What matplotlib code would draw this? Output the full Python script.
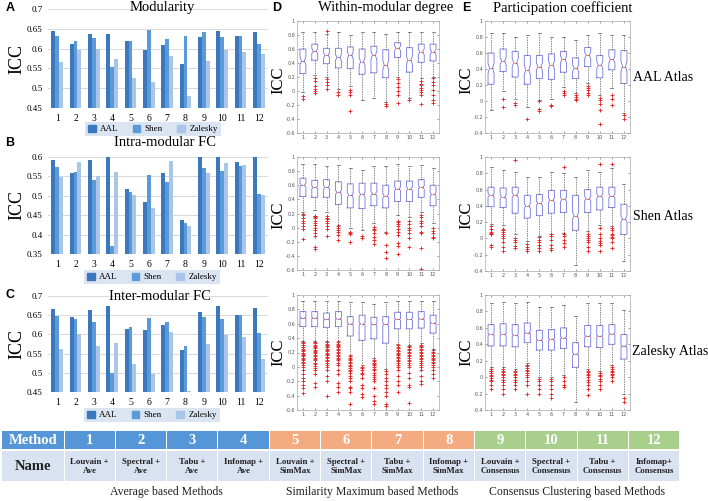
import numpy as np
import matplotlib.pyplot as plt
from matplotlib.patches import Rectangle, Patch

W, H = 708, 501
SERIF = ['Liberation Serif', 'DejaVu Serif']
SANS = ['Liberation Sans', 'DejaVu Sans']

methods = np.arange(1, 13)
atlases = ["AAL", "Shen", "Zalesky"]
bar_colors = ["#3b78bd", "#5b9ad9", "#a9c6e8"]

# bar chart values (ICC)
mod_aal = [0.645, 0.611, 0.638, 0.638, 0.619, 0.596, 0.608, 0.560, 0.630, 0.644, 0.632, 0.641]
mod_shen = [0.633, 0.619, 0.627, 0.554, 0.618, 0.646, 0.624, 0.631, 0.641, 0.630, 0.632, 0.612]
mod_zal = [0.566, 0.596, 0.598, 0.574, 0.525, 0.515, 0.581, 0.480, 0.568, 0.596, 0.591, 0.586]

intra_aal = [0.593, 0.560, 0.591, 0.600, 0.518, 0.483, 0.559, 0.438, 0.600, 0.600, 0.586, 0.600]
intra_shen = [0.575, 0.561, 0.541, 0.371, 0.511, 0.554, 0.536, 0.431, 0.571, 0.564, 0.578, 0.505]
intra_zal = [0.548, 0.587, 0.550, 0.561, 0.502, 0.469, 0.589, 0.421, 0.560, 0.585, 0.580, 0.503]

inter_aal = [0.666, 0.645, 0.663, 0.674, 0.614, 0.611, 0.625, 0.560, 0.659, 0.675, 0.650, 0.670]
inter_shen = [0.648, 0.639, 0.633, 0.499, 0.619, 0.643, 0.633, 0.570, 0.645, 0.640, 0.650, 0.603]
inter_zal = [0.562, 0.602, 0.569, 0.577, 0.523, 0.497, 0.606, 0.452, 0.575, 0.598, 0.593, 0.536]

# box plot summaries: q1, median, q3, lower whisker, upper whisker, outliers
wd_aal_q1 = [0.25, 0.44, 0.39, 0.33, 0.32, 0.24, 0.26, 0.19, 0.48, 0.27, 0.41, 0.43]
wd_aal_med = [0.43, 0.57, 0.51, 0.48, 0.51, 0.42, 0.51, 0.37, 0.61, 0.44, 0.56, 0.56]
wd_aal_q3 = [0.60, 0.67, 0.61, 0.61, 0.63, 0.60, 0.64, 0.59, 0.69, 0.62, 0.67, 0.67]
wd_aal_lo = [-0.01, 0.23, 0.20, 0.03, 0.07, -0.13, -0.10, -0.15, 0.20, -0.10, 0.18, 0.20]
wd_aal_hi = [0.85, 0.85, 0.81, 0.85, 0.80, 0.85, 0.85, 0.81, 0.85, 0.85, 0.85, 0.85]
wd_aal_out = [[-0.07, -0.11], [0.19, 0.14, 0.07, 0.03, 0.0, -0.03], [0.86, 0.17, 0.13, 0.09, 0.03],
              [-0.01, -0.05], [0.02, -0.02, -0.05, -0.29], [], [], [-0.19, -0.22],
              [0.17, 0.11, 0.06, 0.0, -0.05, -0.17], [-0.13],
              [0.14, 0.10, 0.08, 0.05, 0.01, -0.02, -0.05, -0.18],
              [0.18, 0.13, 0.08, 0.01, -0.06, -0.13, -0.17]]

pc_aal_q1 = [0.21, 0.37, 0.30, 0.21, 0.28, 0.27, 0.36, 0.28, 0.43, 0.29, 0.39, 0.22]
pc_aal_med = [0.41, 0.50, 0.48, 0.39, 0.43, 0.45, 0.52, 0.41, 0.57, 0.45, 0.52, 0.43]
pc_aal_q3 = [0.60, 0.65, 0.62, 0.57, 0.57, 0.59, 0.62, 0.54, 0.67, 0.57, 0.64, 0.63]
pc_aal_lo = [-0.11, 0.12, 0.02, -0.08, 0.01, 0.02, 0.17, 0.10, 0.22, 0.07, 0.16, -0.15]
pc_aal_hi = [0.85, 0.85, 0.80, 0.83, 0.85, 0.80, 0.80, 0.76, 0.83, 0.85, 0.83, 0.83]
pc_aal_out = [[], [0.02, -0.07], [-0.02, -0.05], [-0.22], [0.0, -0.10, -0.12], [-0.05, -0.06],
              [0.13, 0.10, 0.08], [0.07, 0.05, 0.03, 0.01], [0.19, 0.16, 0.14, 0.10, 0.07],
              [0.04, 0.01, -0.04, -0.11, -0.29], [0.08, 0.02, -0.05], [-0.18, -0.22]]

wd_shen_q1 = [0.44, 0.43, 0.43, 0.33, 0.28, 0.27, 0.31, 0.28, 0.37, 0.37, 0.43, 0.31]
wd_shen_med = [0.60, 0.57, 0.57, 0.50, 0.46, 0.47, 0.48, 0.45, 0.55, 0.55, 0.57, 0.47]
wd_shen_q3 = [0.70, 0.67, 0.68, 0.65, 0.62, 0.63, 0.63, 0.60, 0.66, 0.66, 0.68, 0.60]
wd_shen_lo = [0.22, 0.25, 0.22, 0.04, 0.00, -0.03, 0.06, -0.06, 0.18, 0.15, 0.22, 0.06]
wd_shen_hi = [0.90, 0.90, 0.87, 0.88, 0.85, 0.82, 0.87, 0.87, 0.90, 0.87, 0.88, 0.85]
wd_shen_out = [[0.20, 0.18, 0.14, 0.09, 0.06, 0.02, -0.02, -0.16],
               [0.17, 0.16, 0.15, 0.13, 0.10, 0.07, 0.04, 0.0, -0.03, -0.08, -0.12, -0.27, -0.30],
               [0.16, 0.14, 0.12, 0.09, 0.07, 0.03, -0.02, -0.12],
               [0.03, 0.0, -0.03, -0.06, -0.10, -0.17],
               [-0.06, -0.08, -0.09, -0.20], [-0.12, -0.14],
               [0.01, -0.02, -0.03, -0.08, -0.13, -0.18, -0.23],
               [-0.08, -0.24, -0.34, -0.43],
               [0.10, 0.08, 0.05, 0.02, -0.02, -0.06, -0.10, -0.22, -0.26, -0.37],
               [0.10, 0.05, 0.0, -0.03, -0.08, -0.14, -0.28],
               [0.18, 0.15, 0.10, 0.06, 0.03, -0.06, -0.08, -0.29, -0.58],
               [0.0, -0.05, -0.08, -0.13, -0.15]]

pc_shen_q1 = [0.39, 0.38, 0.31, 0.25, 0.28, 0.31, 0.32, 0.10, 0.32, 0.35, 0.38, 0.05]
pc_shen_med = [0.53, 0.51, 0.53, 0.40, 0.43, 0.47, 0.48, 0.28, 0.49, 0.52, 0.52, 0.24]
pc_shen_q3 = [0.63, 0.62, 0.63, 0.53, 0.54, 0.59, 0.59, 0.53, 0.60, 0.63, 0.63, 0.42]
pc_shen_lo = [0.18, 0.17, 0.06, -0.03, 0.03, 0.05, 0.07, -0.33, 0.09, 0.17, 0.15, -0.28]
pc_shen_hi = [0.88, 0.84, 0.82, 0.75, 0.76, 0.81, 0.80, 0.75, 0.84, 0.82, 0.86, 0.67]
pc_shen_out = [[0.15, 0.12, 0.08, 0.07, 0.06, 0.05, -0.08, -0.10],
               [0.12, 0.10, 0.08, 0.05, 0.03, 0.0, -0.05, -0.10, -0.15],
               [0.96, 0.0, -0.02, -0.05, -0.09, -0.12],
               [-0.07, -0.10, -0.13, -0.16],
               [0.02, -0.02, -0.05, -0.08, -0.12, -0.15],
               [0.05, 0.03, -0.02, -0.08, -0.12, -0.14],
               [0.88, 0.05, 0.03, -0.02, -0.06, -0.10], [],
               [0.06, 0.03, 0.0, -0.02, -0.05, -0.10, -0.15],
               [0.92, 0.13, 0.05, 0.0, -0.03, -0.06, -0.08, -0.15],
               [0.92, 0.13, 0.10, 0.06, 0.04, 0.02, 0.0, -0.05, -0.12], []]

wd_zal_q1 = [0.56, 0.56, 0.55, 0.56, 0.43, 0.37, 0.39, 0.33, 0.53, 0.53, 0.54, 0.47]
wd_zal_med = [0.68, 0.68, 0.66, 0.67, 0.60, 0.60, 0.59, 0.59, 0.66, 0.66, 0.67, 0.61]
wd_zal_q3 = [0.77, 0.77, 0.75, 0.77, 0.70, 0.72, 0.69, 0.70, 0.76, 0.76, 0.77, 0.72]
wd_zal_lo = [0.36, 0.36, 0.36, 0.36, 0.17, 0.02, 0.12, -0.03, 0.32, 0.31, 0.33, 0.25]
wd_zal_hi = [0.92, 0.92, 0.92, 0.92, 0.90, 0.90, 0.88, 0.90, 0.92, 0.92, 0.92, 0.92]
wd_zal_out = [[0.34, 0.33, 0.31, 0.30, 0.28, 0.27, 0.25, 0.23, 0.22, 0.20, 0.18, 0.17, 0.15, 0.13, 0.11,
               0.09, 0.07, 0.05, 0.02, 0.0, -0.05, -0.10, -0.15, -0.20, -0.25, -0.30, -0.36],
              [0.34, 0.33, 0.31, 0.29, 0.28, 0.26, 0.24, 0.22, 0.21, 0.19, 0.17, 0.15, 0.13, 0.11, 0.09,
               0.06, 0.04, 0.01, -0.02, -0.05, -0.10, -0.22, -0.28],
              [0.34, 0.32, 0.31, 0.29, 0.27, 0.25, 0.24, 0.22, 0.20, 0.18, 0.16, 0.14, 0.12, 0.10, 0.08,
               0.05, 0.03, 0.0, -0.05, -0.12, -0.20, -0.40],
              [0.34, 0.32, 0.30, 0.29, 0.27, 0.25, 0.23, 0.21, 0.19, 0.17, 0.15, 0.13, 0.11, 0.09, 0.06,
               0.03, -0.05, -0.10, -0.22, -0.28, -0.35],
              [0.15, 0.13, 0.11, 0.09, 0.07, 0.05, 0.03, 0.01, -0.02, -0.04, -0.06, -0.09, -0.12, -0.15,
               -0.20, -0.28, -0.30, -0.35, -0.51],
              [0.0, -0.02, -0.05, -0.08, -0.10, -0.15, -0.25, -0.30, -0.38, -0.42],
              [0.10, 0.08, 0.06, 0.04, 0.02, 0.0, -0.03, -0.05, -0.08, -0.11, -0.14, -0.17, -0.20, -0.30,
               -0.40, -0.48, -0.52],
              [-0.06, -0.10, -0.15, -0.20, -0.25, -0.30, -0.35, -0.40, -0.52, -0.55],
              [0.30, 0.28, 0.26, 0.24, 0.22, 0.20, 0.18, 0.16, 0.14, 0.12, 0.10, 0.08, 0.05, 0.03, 0.0,
               -0.05, -0.12, -0.20, -0.25, -0.35],
              [0.29, 0.27, 0.25, 0.23, 0.21, 0.19, 0.17, 0.15, 0.13, 0.10, 0.08, 0.05, 0.02, 0.0, -0.08,
               -0.15, -0.25, -0.28, -0.50],
              [0.31, 0.29, 0.27, 0.25, 0.23, 0.21, 0.19, 0.17, 0.15, 0.13, 0.11, 0.08, 0.05, 0.02, 0.0,
               -0.05, -0.12, -0.20, -0.24],
              [0.23, 0.21, 0.19, 0.17, 0.15, 0.13, 0.11, 0.09, 0.07, 0.05, 0.03, 0.0, -0.05, -0.10,
               -0.15]]

pc_zal_q1 = [0.38, 0.38, 0.37, 0.42, 0.33, 0.33, 0.35, 0.12, 0.37, 0.36, 0.40, 0.22]
pc_zal_med = [0.52, 0.52, 0.51, 0.54, 0.45, 0.46, 0.48, 0.28, 0.50, 0.50, 0.53, 0.38]
pc_zal_q3 = [0.64, 0.65, 0.64, 0.66, 0.57, 0.58, 0.60, 0.42, 0.63, 0.63, 0.64, 0.52]
pc_zal_lo = [0.12, 0.12, 0.10, 0.17, 0.0, 0.0, 0.03, -0.30, 0.10, 0.08, 0.15, -0.20]
pc_zal_hi = [0.90, 0.92, 0.90, 0.92, 0.85, 0.85, 0.88, 0.75, 0.90, 0.90, 0.90, 0.82]
pc_zal_out = [[0.10, 0.08, 0.07, 0.05, 0.03, 0.01, -0.01, -0.03, -0.05, -0.10, -0.15],
              [0.10, 0.08, 0.06, 0.04, 0.02, 0.0, -0.03, -0.06, -0.10, -0.15, -0.20],
              [0.08, 0.06, 0.04, 0.02, 0.0, -0.03, -0.06, -0.10, -0.15],
              [0.15, 0.13, 0.11, 0.09, 0.07, 0.05, 0.02, 0.0, -0.05, -0.10, -0.20],
              [-0.02, -0.05, -0.10, -0.15, -0.20],
              [-0.02, -0.05, -0.10, -0.15, -0.20, -0.25],
              [0.0, -0.05, -0.10, -0.12], [],
              [0.08, 0.06, 0.04, 0.02, 0.0, -0.03, -0.06, -0.10, -0.15, -0.22],
              [0.05, 0.03, 0.01, -0.02, -0.05, -0.10, -0.15],
              [0.12, 0.10, 0.08, 0.06, 0.04, 0.02, 0.0, -0.05],
              [-0.25, -0.30]]

n_rois = {"AAL": 90, "Shen": 268, "Zalesky": 1024}

method_names = ["Louvain +\nAve", "Spectral +\nAve", "Tabu +\nAve", "Infomap +\nAve",
                "Louvain +\nSimMax", "Spectral +\nSimMax", "Tabu +\nSimMax", "Infomap +\nSimMax",
                "Louvain +\nConsensus", "Spectral +\nConsensus", "Tabu +\nConsensus", "Infomap+\nConsensus"]
group_names = ["Average based Methods", "Similarity Maximum based Methods",
               "Consensus Clustering based Methods"]
group_colors = ["#5496d8", "#f4ab82", "#a8d08c"]

fig = plt.figure(figsize=(W / 100, H / 100), dpi=100)


def px_axes(left, top, right, bottom):
    return fig.add_axes([left / W, 1 - bottom / H, (right - left) / W, (bottom - top) / H])


def ftext(x, y, s, **kw):
    fig.text(x / W, 1 - y / H, s, **kw)


# ---- bar charts (A, B, C) ----
def bar_panel(box, values, ylim, title, title_xy, legend_xy):
    ax = px_axes(*box)
    w = 0.21
    for k, (vals, c) in enumerate(zip(values, bar_colors)):
        ax.bar(methods + (k - 1) * w, vals, width=w, color=c, zorder=2)
    ax.set_xlim(0.5, 12.5)
    ax.set_ylim(*ylim)
    yt = np.round(np.arange(ylim[0], ylim[1] + 0.001, 0.05), 2)
    ax.set_yticks(yt)
    ax.set_yticklabels([f"{v:g}" for v in yt], fontsize=6.5, family=SERIF)
    ax.set_xticks(methods)
    ax.set_xticklabels([str(m) for m in methods], fontsize=7, family=SERIF)
    ax.tick_params(length=0, pad=4)
    ax.grid(axis='y', color='#d9d9d9', lw=0.7, zorder=0)
    for s in ax.spines.values():
        s.set_visible(False)
    ax.set_ylabel("ICC", family=SERIF, fontsize=13, labelpad=1)
    ftext(*title_xy, title, family=SERIF, fontsize=10.5, ha='center', va='center')
    handles = [Patch(color=c) for c in bar_colors]
    fig.legend(handles, atlases, loc='center', ncol=3, bbox_to_anchor=(legend_xy[0] / W, 1 - legend_xy[1] / H),
               prop={'family': SERIF, 'size': 6.5}, frameon=True, facecolor='#dbe5f1', edgecolor='none',
               fancybox=False, handlelength=0.8, handleheight=0.8, handletextpad=0.5, columnspacing=1.6,
               borderpad=0.35, framealpha=1)
    return ax


bar_panel((48, 9, 268, 108), [mod_aal, mod_shen, mod_zal], (0.45, 0.7), "Modularity", (162, 7), (153, 129))
bar_panel((48, 157, 268, 254), [intra_aal, intra_shen, intra_zal], (0.35, 0.6), "Intra-modular FC",
          (165, 143), (152, 277))
bar_panel((48, 296, 268, 392), [inter_aal, inter_shen, inter_zal], (0.45, 0.7), "Inter-modular FC",
          (160, 296), (152, 415))


# ---- box plots (D, E) ----
def box_panel(box, q1, med, q3, lo, hi, out, n, ylim):
    ax = px_axes(*box)
    stats = []
    for i in range(12):
        half = 1.57 * (q3[i] - q1[i]) / np.sqrt(n)
        stats.append(dict(q1=q1[i], med=med[i], q3=q3[i], whislo=lo[i], whishi=hi[i],
                          fliers=out[i], cilo=med[i] - half, cihi=med[i] + half))
    ax.bxp(stats, positions=methods, widths=0.5, shownotches=True, manage_ticks=False,
           boxprops=dict(color='#7474dc', lw=0.6),
           medianprops=dict(color='#e05050', lw=0.6),
           whiskerprops=dict(color='#555555', lw=0.5, ls=(0, (2, 1.5))),
           capprops=dict(color='#555555', lw=0.5),
           flierprops=dict(marker='+', markeredgecolor='#e02020', markersize=3, markeredgewidth=0.6, ls='none'))
    ax.set_xlim(0.5, 12.5)
    ax.set_ylim(*ylim)
    yt = np.round(np.arange(ylim[0], 1.001, 0.2), 1)
    ax.set_yticks(yt)
    ax.set_yticklabels([f"{v:g}" for v in yt], fontsize=3.5)
    ax.set_xticks(methods)
    ax.set_xticklabels([str(m) for m in methods], fontsize=3.5)
    ax.tick_params(direction='in', length=1.5, width=0.4, pad=1.5, colors='#555555',
                   top=True, right=True)
    for s in ax.spines.values():
        s.set_color('#aaaaaa')
        s.set_linewidth(0.5)
    return ax


box_panel((297, 21, 439, 133), wd_aal_q1, wd_aal_med, wd_aal_q3, wd_aal_lo, wd_aal_hi, wd_aal_out,
          n_rois["AAL"], (-0.6, 1))
box_panel((485, 21, 630, 133), pc_aal_q1, pc_aal_med, pc_aal_q3, pc_aal_lo, pc_aal_hi, pc_aal_out,
          n_rois["AAL"], (-0.4, 1))
box_panel((297, 157, 439, 270), wd_shen_q1, wd_shen_med, wd_shen_q3, wd_shen_lo, wd_shen_hi, wd_shen_out,
          n_rois["Shen"], (-0.6, 1))
box_panel((485, 157, 630, 271), pc_shen_q1, pc_shen_med, pc_shen_q3, pc_shen_lo, pc_shen_hi, pc_shen_out,
          n_rois["Shen"], (-0.4, 1))
box_panel((297, 295, 439, 410), wd_zal_q1, wd_zal_med, wd_zal_q3, wd_zal_lo, wd_zal_hi, wd_zal_out,
          n_rois["Zalesky"], (-0.6, 1))
box_panel((485, 295, 630, 410), pc_zal_q1, pc_zal_med, pc_zal_q3, pc_zal_lo, pc_zal_hi, pc_zal_out,
          n_rois["Zalesky"], (-0.4, 1))

ftext(386, 8, "Within-modular degree", family=SERIF, fontsize=10.5, ha='center', va='center')
ftext(563, 8, "Participation coefficient", family=SERIF, fontsize=10.5, ha='center', va='center')
for y in (80, 215, 352):
    ftext(278, y, "ICC", family=SERIF, fontsize=12, rotation=90, ha='center', va='center')
    ftext(466, y, "ICC", family=SERIF, fontsize=12, rotation=90, ha='center', va='center')
ftext(633, 77, "AAL Atlas", family=SERIF, fontsize=10, ha='left', va='center')
ftext(633, 217, "Shen Atlas", family=SERIF, fontsize=10, ha='left', va='center')
ftext(632, 352, "Zalesky Atlas", family=SERIF, fontsize=10, ha='left', va='center')

for lab, x, y in [("A", 10, 8), ("B", 10, 143), ("C", 10, 295), ("D", 277, 8), ("E", 466, 8)]:
    ftext(x, y, lab, family=SANS, fontsize=9, fontweight='bold', ha='center', va='center')

# ---- method table ----
tab = fig.add_axes([0, 0, 1, 1], zorder=-1)
tab.set_xlim(0, W)
tab.set_ylim(H, 0)
tab.axis('off')
x0, first_w, cell_w = 2, 62, 51.3
r1_top, r1_bot, r2_top, r2_bot = 431, 449, 451, 481
tab.add_patch(Rectangle((x0, r1_top), first_w, r1_bot - r1_top, color=group_colors[0], lw=0))
tab.add_patch(Rectangle((x0, r2_top), first_w, r2_bot - r2_top, color='#d9e2f1', lw=0))
tab.text(x0 + first_w / 2, (r1_top + r1_bot) / 2, "Method", color='white', family=SERIF,
         fontweight='bold', fontsize=10.5, ha='center', va='center')
tab.text(x0 + first_w / 2, (r2_top + r2_bot) / 2, "Name", color='#222222', family=SERIF,
         fontweight='bold', fontsize=10.5, ha='center', va='center')
for i, m in enumerate(methods):
    left = x0 + first_w + i * cell_w
    tab.add_patch(Rectangle((left + 0.5, r1_top), cell_w - 1, r1_bot - r1_top,
                            color=group_colors[i // 4], lw=0))
    tab.add_patch(Rectangle((left + 0.5, r2_top), cell_w - 1, r2_bot - r2_top, color='#d9e2f1', lw=0))
    tab.text(left + cell_w / 2, (r1_top + r1_bot) / 2, str(m), color='white', family=SERIF,
             fontweight='bold', fontsize=10.5, ha='center', va='center')
    tab.text(left + cell_w / 2, (r2_top + r2_bot) / 2 + 0.5, method_names[i], color='#222222',
             family=SERIF, fontweight='bold', fontsize=6.3, ha='center', va='center', linespacing=1.25)
for k, g in enumerate(group_names):
    cx = x0 + first_w + (k * 4 + 2) * cell_w
    tab.text(cx, 492, g, family=SERIF, fontsize=8.5, ha='center', va='center', color='#222222')

fig.savefig("out.png", dpi=100)
